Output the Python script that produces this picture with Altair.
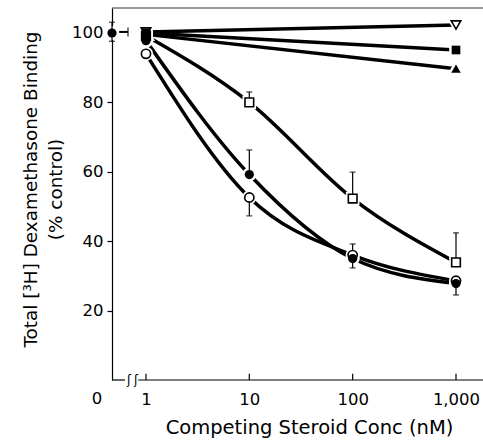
import altair as alt
import pandas as pd

FONT = "DejaVu Sans"

# ---- data ---------------------------------------------------------------
ZERO_POS = 0.469   # where the "0 nM" control sits on the broken log axis
X_MAX = 1825
Y_MAX = 107.2

conc = [1, 10, 100, 1000]
open_circle = [94.0, 52.6, 36.0, 28.6]
filled_circle = [97.8, 59.2, 35.0, 27.8]
open_square = [99.2, 80.0, 52.3, 33.9]

conc_flat = [1, 1000]
open_tri_down = [100.3, 102.3]
filled_square = [100.0, 95.1]
filled_tri = [99.6, 89.7]

control_value = 100.0

# error bars: x, centre, low, high
err_conc = [ZERO_POS, 10, 10, 10, 100, 100, 100, 1000, 1000]
err_mid = [100.0, 80.0, 59.2, 52.6, 52.3, 36.0, 35.0, 33.9, 27.8]
err_low = [97.6, 80.0, 59.2, 47.3, 52.3, 36.0, 32.3, 33.9, 24.5]
err_high = [103.1, 83.0, 66.3, 52.6, 59.9, 39.2, 35.0, 42.4, 27.8]

# small sideways bar next to the control point
hbar_start = [0.55]
hbar_end = [0.67]
hbar_value = [100.3]

x_ticks = [1, 10, 100, 1000]
y_ticks = [20, 40, 60, 80, 100]
axis_seg_start = [ZERO_POS, 0.84]
axis_seg_end = [0.626, X_MAX]
break_pos = [0.684, 0.80]

# ---- tables -------------------------------------------------------------
series_defs = [
    ("open_tri_down", conc_flat, open_tri_down, "triangle-down", False, 90),
    ("filled_square", conc_flat, filled_square, "square", True, 75),
    ("filled_tri", conc_flat, filled_tri, "triangle-up", True, 90),
    ("open_square", conc, open_square, "square", False, 75),
    ("open_circle", conc, open_circle, "circle", False, 85),
    ("filled_circle", conc, filled_circle, "circle", True, 85),
]
rows = []
for name, xv, yv, shape, filled, size in series_defs:
    for x, y in zip(xv, yv):
        rows.append(dict(series=name, conc=x, value=y, shape=shape,
                         filled=filled, size=size))
rows.append(dict(series="control", conc=ZERO_POS, value=control_value,
                 shape="circle", filled=True, size=85))
pts = pd.DataFrame(rows)
lines_df = pts[pts.series != "control"]

err_df = pd.DataFrame(dict(conc=err_conc, mid=err_mid, lo=err_low, hi=err_high))
caps = []
for x, m, lo, hi in zip(err_conc, err_mid, err_low, err_high):
    if hi > m:
        caps.append(dict(conc=x, value=hi))
    if lo < m:
        caps.append(dict(conc=x, value=lo))
caps_df = pd.DataFrame(caps)
hbar_df = pd.DataFrame(dict(conc=hbar_start, x2=hbar_end, value=hbar_value))
xt_df = pd.DataFrame(dict(conc=x_ticks))
seg_df = pd.DataFrame(dict(conc=axis_seg_start, x2=axis_seg_end))
brk_df = pd.DataFrame(dict(conc=break_pos))

# ---- scales & axes -------------------------------------------------------
xs = alt.Scale(type="log", domain=[ZERO_POS, X_MAX], nice=False)
ys = alt.Scale(domain=[0, Y_MAX], nice=False, zero=False)

x_axis = alt.Axis(values=x_ticks, format=",d", tickSize=0, domain=False,
                  grid=False, labelFont=FONT, labelFontSize=16.5,
                  labelColor="black", labelPadding=11,
                  title="Competing Steroid Conc (nM)", titleFont=FONT,
                  titleFontSize=19.5, titleFontWeight="normal",
                  titleColor="black", titleX=197, titleY=53,
                  titleAlign="center", titleBaseline="alphabetic")
y_axis = alt.Axis(values=y_ticks, tickSize=5, tickColor="black",
                  tickWidth=1.2, domainColor="black", domainWidth=1.2,
                  grid=False, labelFont=FONT, labelFontSize=16.5,
                  labelColor="black", labelPadding=4,
                  title=["Total [³H] Dexamethasone Binding", "(% control)"],
                  titleFont=FONT, titleFontSize=18.4, titleFontWeight="normal",
                  titleColor="black", titleAngle=-90, titleX=-76, titleY=181,
                  titleAlign="center", titleBaseline="alphabetic",
                  titleLineHeight=25)


def X(field="conc"):
    return alt.X(f"{field}:Q", scale=xs, axis=x_axis, title="Competing Steroid Conc (nM)")


def Y(field="value"):
    return alt.Y(f"{field}:Q", scale=ys, axis=y_axis,
                 title=["Total [³H] Dexamethasone Binding", "(% control)"])


def YD(v):
    return alt.Y(datum=v, scale=ys, axis=y_axis,
                 title=["Total [³H] Dexamethasone Binding", "(% control)"])


base = alt.Chart(pts)

lines = alt.Chart(lines_df).mark_line(
    interpolate="monotone", color="black", strokeWidth=3.5
).encode(x=X(), y=Y(), detail="series:N", order="conc:Q")

halo = base.mark_point(filled=True, fill="white", stroke="white",
                       strokeWidth=5, opacity=1).encode(
    x=X(), y=Y(),
    shape=alt.Shape("shape:N", scale=None),
    size=alt.Size("size:Q", scale=None),
)

err_rules = alt.Chart(err_df).mark_rule(color="black", strokeWidth=1.2).encode(
    x=X(), y=Y("lo"), y2="hi:Q",
)
err_caps = alt.Chart(caps_df).mark_tick(
    orient="horizontal", color="black", thickness=1.3, size=6
).encode(x=X(), y=Y())

hbar = alt.Chart(hbar_df).mark_rule(color="black", strokeWidth=2).encode(
    x=X(), x2="x2:Q", y=Y(),
)
hcap = alt.Chart(hbar_df).mark_tick(
    orient="vertical", color="black", thickness=1.5, size=9
).encode(x=X("x2"), y=Y())

open_pts = base.transform_filter("!datum.filled").mark_point(
    filled=True, fill="white", stroke="black", strokeWidth=1.6, opacity=1
).encode(
    x=X(), y=Y(),
    shape=alt.Shape("shape:N", scale=None),
    size=alt.Size("size:Q", scale=None),
)
filled_pts = base.transform_filter("datum.filled").mark_point(
    filled=True, color="black", opacity=1
).encode(
    x=X(), y=Y(),
    shape=alt.Shape("shape:N", scale=None),
    size=alt.Size("size:Q", scale=None),
)

x_tick_marks = alt.Chart(xt_df).mark_rule(color="black", strokeWidth=1.2).encode(
    x=X(), y=YD(0), y2=alt.Y2(datum=1.8),
)
axis_line = alt.Chart(seg_df).mark_rule(color="black", strokeWidth=1.2).encode(
    x=X(), x2="x2:Q", y=YD(0),
)
breaks = alt.Chart(brk_df).mark_text(
    text="ʃ", font=FONT, fontSize=12, color="black", baseline="middle"
).encode(x=X(), y=YD(0))
zero_label = alt.Chart(pd.DataFrame(dict(conc=[ZERO_POS]))).mark_text(
    text="0", font=FONT, fontSize=16.5, color="black",
    baseline="alphabetic", align="center", dx=-15, dy=23.5
).encode(x=X(), y=YD(0))
top_frame = alt.Chart(pd.DataFrame(dict(conc=[ZERO_POS], x2=[X_MAX]))).mark_rule(
    color="#333333", strokeWidth=1
).encode(x=X(), x2="x2:Q", y=YD(Y_MAX))

chart = alt.layer(
    lines, halo, err_rules, err_caps, hbar, hcap, open_pts, filled_pts,
    x_tick_marks, axis_line, breaks, zero_label, top_frame,
).properties(
    width=371, height=372,
    padding={"left": 112, "top": 8, "right": 0, "bottom": 60},
    autosize=alt.AutoSizeParams(type="none"),
    background="white",
).configure_view(stroke=None)

chart.save("out.html", embed_options={"renderer": "svg", "actions": False})
